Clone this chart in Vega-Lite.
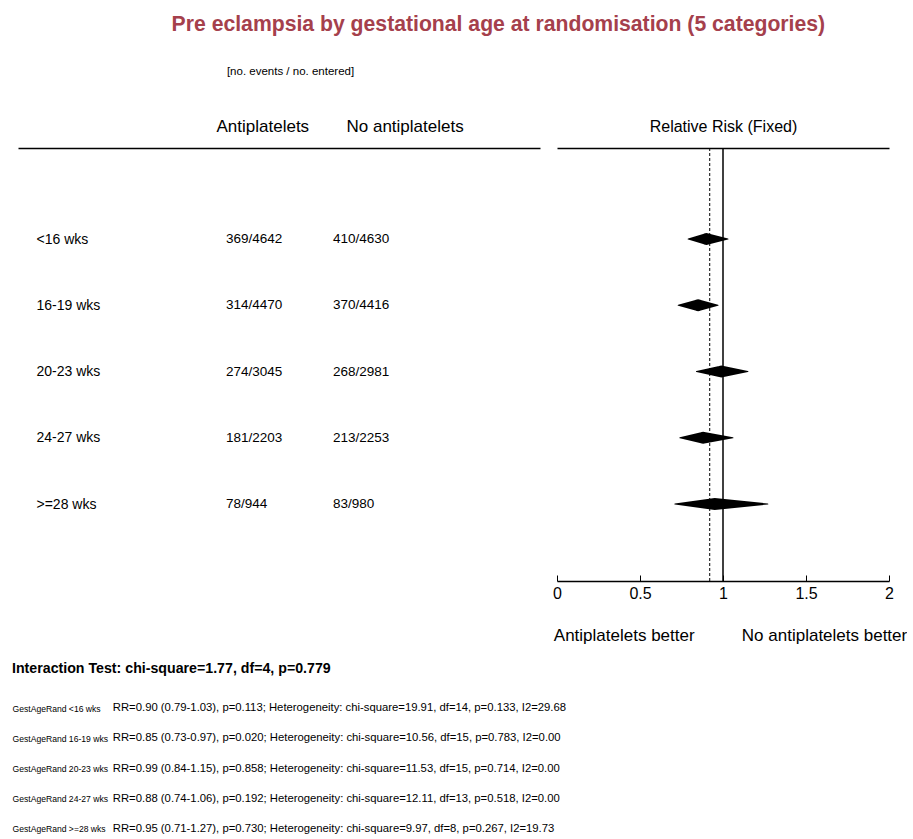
{
  "$schema": "https://vega.github.io/schema/vega-lite/v6.json",
  "background": "white",
  "padding": {"left": 12, "top": 13, "right": 0, "bottom": 0},
  "config": {
    "font": "Liberation Sans",
    "view": {"stroke": null},
    "axis": {"labelColor": "black", "titleColor": "black", "domainColor": "black", "tickColor": "black", "titleFontWeight": "normal", "grid": false}
  },
  "title": {"text": "Pre eclampsia by gestational age at randomisation (5 categories)", "fontSize": 21.2, "fontWeight": "bold", "color": "#a5404c", "anchor": "middle", "dx": 39, "offset": 30},
  "datasets": {
    "subgroups": [
      {"group": "<16 wks", "ap": "369/4642", "nap": "410/4630", "rr": 0.90, "lo": 0.79, "hi": 1.03},
      {"group": "16-19 wks", "ap": "314/4470", "nap": "370/4416", "rr": 0.85, "lo": 0.73, "hi": 0.97},
      {"group": "20-23 wks", "ap": "274/3045", "nap": "268/2981", "rr": 0.99, "lo": 0.84, "hi": 1.15},
      {"group": "24-27 wks", "ap": "181/2203", "nap": "213/2253", "rr": 0.88, "lo": 0.74, "hi": 1.06},
      {"group": ">=28 wks", "ap": "78/944", "nap": "83/980", "rr": 0.95, "lo": 0.71, "hi": 1.27}
    ],
    "overall": [{"rr": 0.92, "null": 1}],
    "stats": [
      {"label": "GestAgeRand <16 wks", "stat": "RR=0.90 (0.79-1.03), p=0.113; Heterogeneity: chi-square=19.91, df=14, p=0.133, I2=29.68"},
      {"label": "GestAgeRand 16-19 wks", "stat": "RR=0.85 (0.73-0.97), p=0.020; Heterogeneity: chi-square=10.56, df=15, p=0.783, I2=0.00"},
      {"label": "GestAgeRand 20-23 wks", "stat": "RR=0.99 (0.84-1.15), p=0.858; Heterogeneity: chi-square=11.53, df=15, p=0.714, I2=0.00"},
      {"label": "GestAgeRand 24-27 wks", "stat": "RR=0.88 (0.74-1.06), p=0.192; Heterogeneity: chi-square=12.11, df=13, p=0.518, I2=0.00"},
      {"label": "GestAgeRand >=28 wks", "stat": "RR=0.95 (0.71-1.27), p=0.730; Heterogeneity: chi-square=9.97, df=8, p=0.267, I2=19.73"}
    ]
  },
  "spacing": 18,
  "vconcat": [
    {
      "spacing": 12,
      "hconcat": [
        {
          "width": 522,
          "height": 433,
          "data": {"name": "subgroups"},
          "encoding": {
            "y": {
              "field": "group", "type": "nominal", "sort": null,
              "scale": {"type": "point", "range": [91, 356], "padding": 0},
              "axis": {"orient": "left", "title": null, "domain": false, "ticks": false, "tickSize": 0, "labelAlign": "left", "labelPadding": -18, "labelFontSize": 14, "labelBaseline": "middle"}
            }
          },
          "layer": [
            {
              "mark": {"type": "text", "align": "left", "baseline": "middle", "fontSize": 13.5, "dx": 10, "color": "black"},
              "encoding": {
                "x": {
                  "datum": "ap", "type": "nominal",
                  "scale": {"type": "point", "domain": ["pre", "ap", "nap", "post"], "padding": 0.508, "align": 0.515},
                  "axis": {"orient": "top", "title": "[no. events / no. entered]", "titleFontSize": 11.5, "titleX": 272, "titlePadding": 41, "domain": true, "domainWidth": 1.5, "ticks": false, "tickSize": 0, "labelAngle": 0, "labelAlign": "left", "labelPadding": 13, "labelFontSize": 17, "labelExpr": "datum.value == 'ap' ? 'Antiplatelets' : datum.value == 'nap' ? 'No antiplatelets' : ''"}
                },
                "text": {"field": "ap"}
              }
            },
            {
              "mark": {"type": "text", "align": "left", "baseline": "middle", "fontSize": 13.5, "dx": -13, "color": "black"},
              "encoding": {
                "x": {"datum": "nap", "type": "nominal"},
                "text": {"field": "nap"}
              }
            }
          ]
        },
        {
          "width": 332,
          "height": 433,
          "resolve": {"axis": {"x": "independent"}},
          "layer": [
            {
              "data": {"name": "overall"},
              "mark": {"type": "rule", "color": "black", "strokeWidth": 1.5},
              "encoding": {
                "x": {
                  "field": "null", "type": "quantitative",
                  "scale": {"domain": [0, 2], "nice": false, "zero": false},
                  "axis": {"orient": "top", "title": "Relative Risk (Fixed)", "titleFontSize": 16, "titlePadding": 14, "labels": false, "ticks": false, "tickSize": 0, "domainWidth": 1.5}
                }
              }
            },
            {
              "data": {"name": "overall"},
              "mark": {"type": "rule", "color": "black", "strokeWidth": 1, "strokeDash": [3, 2]},
              "encoding": {
                "x": {"field": "rr", "type": "quantitative", "axis": null}
              }
            },
            {
              "data": {"name": "subgroups"},
              "transform": [{"fold": ["lo", "rr", "hi"], "as": ["pt", "val"]}],
              "mark": {"type": "trail", "color": "black"},
              "encoding": {
                "x": {
                  "field": "val", "type": "quantitative",
                  "axis": {"orient": "bottom", "values": [0, 0.5, 1, 1.5, 2], "format": "~g", "title": "Antiplatelets better\u00a0\u00a0\u00a0\u00a0\u00a0\u00a0\u00a0\u00a0\u00a0\u00a0No antiplatelets better", "titleFontSize": 17, "titleX": 173, "titlePadding": 26, "labelFontSize": 16, "labelPadding": 10, "tickSize": -6, "domainWidth": 1.5, "labelFlush": false}
                },
                "y": {"field": "group", "type": "nominal", "sort": null, "scale": {"type": "point", "range": [91, 356], "padding": 0}, "axis": null},
                "size": {"field": "pt", "type": "ordinal", "scale": {"type": "ordinal", "domain": ["lo", "rr", "hi"], "range": [0, 12, 0]}, "legend": null},
                "detail": {"field": "group"},
                "order": {"field": "val", "type": "quantitative"}
              }
            }
          ]
        }
      ]
    },
    {
      "width": 600,
      "height": 151,
      "data": {"name": "stats"},
      "title": {"text": "Interaction Test: chi-square=1.77, df=4, p=0.779", "anchor": "start", "fontSize": 14.2, "fontWeight": "bold", "offset": 17, "color": "black"},
      "mark": {"type": "text", "align": "left", "baseline": "middle", "fontSize": 11.3, "color": "black"},
      "encoding": {
        "y": {
          "field": "label", "type": "nominal", "sort": null,
          "scale": {"type": "point", "padding": 0.5},
          "axis": {"title": null, "domain": false, "ticks": false, "tickSize": 0, "labelAlign": "left", "labelPadding": 6, "labelFontSize": 8.6}
        },
        "x": {"datum": "stat", "type": "nominal", "scale": {"type": "point", "domain": ["stat"], "padding": 0, "align": 0.158}, "axis": null},
        "text": {"field": "stat"}
      }
    }
  ]
}
